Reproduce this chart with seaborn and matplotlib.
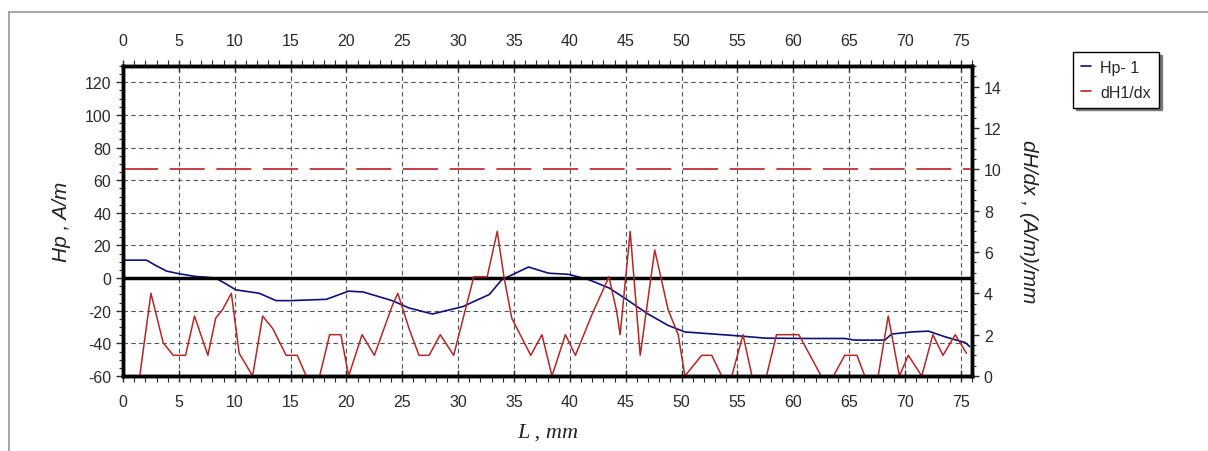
import numpy as np
import matplotlib
matplotlib.use("Agg")
import matplotlib.pyplot as plt
from matplotlib.ticker import MultipleLocator
from matplotlib.patches import Rectangle
from matplotlib.lines import Line2D
import seaborn as sns

# Hp-1 profile (A/m), left axis
hp_x = [0, 2.1, 3.0, 3.9, 5.0, 6.5, 7.5, 8.3, 9.2, 10.1, 12.2, 13.7, 15, 18.2, 20.2, 21.5,
        24.1, 25.6, 27.7, 30.4, 32.8, 33.9, 36.3, 38.1, 39.9, 41.7, 43.5, 45, 47, 48.8,
        50.3, 55.1, 57.5, 61.3, 64.6, 65.5, 68.2, 68.8, 70.6, 72.1, 73.6, 75.4, 75.8]
hp_y = [11, 11, 7.5, 4.3, 2.7, 1, 0.5, 0, -3.5, -7.2, -9.3, -13.8, -13.8, -13, -8, -8.5,
        -13.8, -18.3, -22, -17.5, -10, -1, 6.8, 3, 2.3, -1, -6, -12.7, -22, -29,
        -33, -35.4, -36.8, -37, -37, -38, -38, -34.3, -33, -32.5, -36, -39.5, -42]

# dH1/dx gradient ((A/m)/mm), right axis
dh_x = [0, 1.5, 2.5, 3.6, 4.5, 5.6, 6.4, 7.6, 8.3, 8.9, 9.7, 10.4, 11.6, 12.5, 13.4,
        14.6, 15.6, 16.4, 17.6, 18.5, 19.5, 20.2, 21.4, 22.5, 24.1, 24.6, 25.6, 26.5,
        27.4, 28.4, 29.6, 31.4, 32.6, 33.5, 34.1, 34.8, 36.5, 37.5, 38.4, 39.6, 40.5,
        42.0, 43.5, 44.2, 44.5, 45.4, 46.3, 47.6, 48.8, 49.7, 50.3, 51.8, 52.7, 53.6,
        54.5, 55.5, 56.3, 57.6, 58.5, 60.5, 62.5, 63.6, 64.6, 65.7, 66.4, 67.6, 68.5,
        69.5, 70.3, 71.5, 72.5, 73.4, 74.5, 75.5]
dh_y = [0, 0, 4, 1.6, 1, 1, 2.9, 1, 2.8, 3.2, 4, 1.1, 0, 2.9, 2.3,
        1, 1, 0, 0, 2, 2, 0, 2, 1, 3.4, 4, 2.3, 1,
        1, 2, 1, 4.8, 4.8, 7, 4.8, 2.8, 1, 2, 0, 2, 1,
        3, 4.8, 3.1, 2, 7, 1, 6.1, 3.2, 2, 0, 1, 1, 0,
        0, 2, 0, 0, 2, 2, 0, 0, 1, 1, 0, 0, 2.9,
        0, 1, 0, 2, 1, 2, 1.1]

threshold = 10  # dH/dx limit
labels = ["Hp- 1", "dH1/dx"]

sns.set_style("white")
plt.rcParams['font.family'] = ['Liberation Sans', 'DejaVu Sans']
plt.rcParams['axes.unicode_minus'] = False

blue = "#10107a"
red = "#b02828"
tick_col = "#2a2a2a"

fig = plt.figure(figsize=(12.08, 4.52), dpi=100)
ax = fig.add_axes([123 / 1208, 1 - 377 / 452, (972 - 123) / 1208, (377 - 67) / 452])
ax2 = ax.twinx()

sns.lineplot(x=hp_x, y=hp_y, ax=ax, color=blue, lw=1.2, sort=False, estimator=None)
sns.lineplot(x=dh_x, y=dh_y, ax=ax2, color=red, lw=1.1, sort=False, estimator=None)
ax2.axhline(threshold, color="#c84040", lw=1.4, dashes=(18, 6))
ax.axhline(0, color="black", lw=2.5, zorder=5)

ax.set_xlim(0, 76)
ax.set_ylim(-60, 130)
ax2.set_ylim(0, 15)

ax.xaxis.set_major_locator(MultipleLocator(5))
ax.xaxis.set_minor_locator(MultipleLocator(1))
ax.yaxis.set_major_locator(MultipleLocator(20))
ax.yaxis.set_minor_locator(MultipleLocator(5))
ax2.yaxis.set_major_locator(MultipleLocator(2))
ax2.yaxis.set_minor_locator(MultipleLocator(0.5))

ax.grid(True, which="major", color="#555555", lw=0.8, linestyle=(0, (4, 3)))
ax.set_axisbelow(True)

ax.tick_params(axis="x", which="both", top=True, labeltop=True, bottom=True,
               labelbottom=True, colors=tick_col, labelsize=11.5)
ax.tick_params(axis="x", which="major", direction="inout", length=8, width=1, pad=9)
ax.tick_params(axis="x", which="minor", direction="out", length=4, width=0.8)
ax.tick_params(axis="y", which="both", left=True, colors=tick_col, labelsize=11.5)
ax.tick_params(axis="y", which="major", direction="out", length=5, width=1)
ax.tick_params(axis="y", which="minor", direction="out", length=3, width=0.8)
ax2.tick_params(axis="y", which="both", right=True, colors=tick_col, labelsize=11.5)
ax2.tick_params(axis="y", which="major", direction="out", length=5, width=1)
ax2.tick_params(axis="y", which="minor", direction="out", length=3, width=0.8)

for a in (ax, ax2):
    for s in a.spines.values():
        s.set_color("black")
        s.set_linewidth(2.5)

ax.set_xlabel("L , mm", family="Liberation Serif", style="italic", fontsize=16,
              color="#222222", labelpad=10)
ax.set_ylabel("Hp , A/m", style="italic", fontsize=15, color="#222222", labelpad=10)
ax2.set_ylabel("dH/dx , (A/m)/mm", style="italic", fontsize=15, color="#222222",
               rotation=270, labelpad=26)

# outer grey frame of the original window
fig.patches.append(Rectangle((9 / 1208, -0.2), 1.2, 1.2 - 13 / 452, transform=fig.transFigure,
                             fill=False, edgecolor="#a8a8a8", lw=1.5))

handles = [Line2D([], [], color=blue, lw=1.2), Line2D([], [], color=red, lw=1.2)]
fig.legend(handles, labels, loc="upper left", bbox_to_anchor=(1073 / 1208, 1 - 53 / 452),
           borderaxespad=0, fontsize=11.5, frameon=True, fancybox=False, edgecolor="black",
           shadow={"color": "#777777", "alpha": 1}, handlelength=0.6, handletextpad=0.6,
           labelspacing=0.6, borderpad=0.5, framealpha=1)

fig.savefig("out.png", dpi=100)
